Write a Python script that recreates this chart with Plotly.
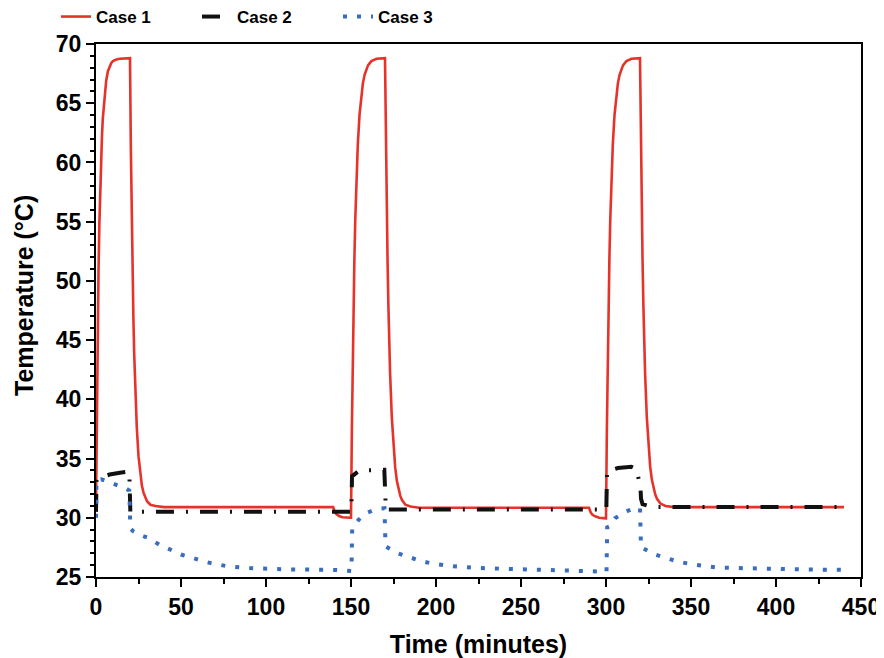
import plotly.graph_objects as go

# ---- data ----
case1_t = [0, 0.5, 1, 1.5, 2, 2.5, 3, 3.5, 4, 5, 6, 7, 8, 9, 10, 11, 12, 14, 20,
           20.5, 21, 21.5, 22, 22.5, 23, 24, 25, 26, 27, 28, 29, 30, 32, 35, 40, 80, 139.5,
           140.5, 141.5, 143, 145, 149.5,
           150, 150.5, 151, 151.5, 152, 152.5, 153, 154, 155, 156, 157, 158, 159, 160, 162, 165, 170,
           170.5, 171, 171.5, 172, 172.5, 173, 174, 175, 176, 177, 178, 179, 180, 182, 185, 190, 240, 290,
           291, 292, 294, 296, 299.8,
           300, 300.5, 301, 301.5, 302, 302.5, 303, 304, 305, 306, 307, 308, 309, 310, 312, 315, 320,
           320.5, 321, 321.5, 322, 322.5, 323, 324, 325, 326, 327, 328, 329, 330, 332, 335, 340, 400, 440]
case1_v = [31.0, 39.4, 45.9, 51.0, 54.9, 58.0, 60.4, 62.2, 63.7, 65.7, 66.9, 67.7, 68.1, 68.4, 68.55, 68.65, 68.7, 68.75, 68.8,
           61.2, 55.4, 50.6, 46.8, 43.7, 41.2, 37.6, 35.2, 33.7, 32.7, 32.1, 31.65, 31.4, 31.1, 31.0, 30.9, 30.9, 30.9,
           30.5, 30.3, 30.15, 30.05, 30.0,
           30.0, 37.3, 43.2, 48.0, 51.9, 55.1, 57.7, 61.5, 64.0, 65.6, 66.7, 67.4, 67.9, 68.2, 68.55, 68.75, 68.8,
           61.9, 56.3, 51.7, 47.9, 44.8, 42.2, 38.5, 35.9, 34.25, 33.1, 32.35, 31.85, 31.5, 31.1, 30.95, 30.85, 30.85, 30.85,
           30.45, 30.25, 30.1, 30.0, 29.95,
           29.95, 37.3, 43.2, 48.0, 51.9, 55.1, 57.7, 61.5, 64.0, 65.6, 66.7, 67.4, 67.9, 68.2, 68.55, 68.75, 68.8,
           61.9, 56.3, 51.7, 47.9, 44.8, 42.2, 38.5, 35.9, 34.3, 33.2, 32.45, 31.95, 31.6, 31.2, 31.0, 30.9, 30.9, 30.9]

case2_t = [0, 0.3, 4, 8, 14, 19.6, 20.2, 80, 150.2,
           150.6, 155, 169.6, 170.5, 230, 300.2,
           300.6, 307, 315, 318, 320.3, 320.6, 321.5, 325, 330, 440]
case2_v = [30.5, 33.2, 33.45, 33.65, 33.8, 33.9, 30.5, 30.5, 30.5,
           33.5, 34.0, 34.05, 30.7, 30.7, 30.7,
           33.9, 34.2, 34.3, 34.1, 32.5, 31.6, 31.15, 31.0, 30.9, 30.9]

case3_t = [0, 0.3, 3, 6, 10, 14, 17.3, 19.6, 20.2, 22, 25, 30.8, 37.6, 44, 50, 57, 63.5, 70, 77.6, 90, 110, 140, 149.9,
           150.3, 150.7, 152, 154.3, 156.5, 159, 162.5, 166, 169.7, 170.3, 172, 177.6, 184.7, 191, 199, 210, 224, 250, 280, 299.7,
           300.3, 300.7, 302.4, 305.3, 307.5, 310.2, 313, 316, 320, 320.6, 322, 328.8, 335.3, 342.5, 350.4, 357.6, 365, 371, 390, 410, 440]
case3_v = [30.0, 33.2, 33.25, 33.1, 32.9, 32.7, 32.5, 32.3, 29.1, 28.85, 28.6, 28.3, 27.7, 27.3, 26.9, 26.6, 26.3, 26.1, 25.9, 25.75, 25.65, 25.6, 25.5,
           25.5, 29.1, 29.4, 29.8, 30.1, 30.4, 30.6, 30.75, 30.8, 27.6, 27.45, 27.0, 26.66, 26.35, 26.1, 25.9, 25.76, 25.65, 25.55, 25.45,
           25.45, 29.2, 29.3, 29.96, 30.2, 30.4, 30.6, 30.75, 30.8, 27.5, 27.4, 26.9, 26.6, 26.3, 26.07, 25.93, 25.8, 25.78, 25.7, 25.65, 25.6]

x_ticks = [0, 50, 100, 150, 200, 250, 300, 350, 400, 450]
y_ticks = [25, 30, 35, 40, 45, 50, 55, 60, 65, 70]

FONT = "Liberation Sans, Arial, sans-serif"

fig = go.Figure()
fig.add_trace(go.Scatter(x=case1_t, y=case1_v, mode="lines", name="<b>Case 1</b>",
                         line=dict(color="#E5332A", width=2.6)))
fig.add_trace(go.Scatter(x=case2_t, y=case2_v, mode="lines", name="<b>Case 2</b>",
                         line=dict(color="#111111", width=4, dash="18px,12px,2px,12px")))
fig.add_trace(go.Scatter(x=case3_t, y=case3_v, mode="lines", name="<b>Case 3</b>",
                         line=dict(color="#3A6DC0", width=4, dash="4px,10px")))

axis_common = dict(
    showline=True, linecolor="black", linewidth=2, mirror=True,
    ticks="outside", tickcolor="black", tickwidth=2, ticklen=8,
    showgrid=False, zeroline=False, automargin=False,
    tickfont=dict(family=FONT, size=23, color="black"),
)

fig.update_xaxes(range=[0, 450], tickvals=x_ticks, ticktext=[f"<b>{v}</b>" for v in x_ticks],
                 minor=dict(dtick=25, ticks="outside", ticklen=5, tickwidth=2, tickcolor="black"),
                 title=dict(text="<b>Time (minutes)</b>", font=dict(family=FONT, size=25, color="black"), standoff=17),
                 **axis_common)
fig.update_yaxes(range=[25, 70], tickvals=y_ticks, ticktext=[f"<b>{v}</b>" for v in y_ticks],
                 minor=dict(dtick=1, ticks="outside", ticklen=4, tickwidth=2, tickcolor="black"),
                 **axis_common)

# y-axis title placed as rotated text
fig.add_annotation(text="<b>Temperature (°C)</b>", textangle=-90, showarrow=False,
                   xref="paper", yref="paper", x=(24 - 96) / 765, y=(577 - 296) / 533,
                   xanchor="center", yanchor="middle",
                   font=dict(family=FONT, size=25, color="black"))

fig.update_layout(
    width=876, height=650,
    margin=dict(l=88, r=23, t=36, b=81, autoexpand=False),
    plot_bgcolor="white", paper_bgcolor="white",
    showlegend=True,
    legend=dict(orientation="h", xref="container", yref="container",
                x=48 / 876, xanchor="left", y=1 - 9 / 650, yanchor="middle",
                font=dict(family=FONT, size=17, color="black"),
                itemwidth=30, entrywidth=96, entrywidthmode="pixels",
                bgcolor="rgba(0,0,0,0)"),
)

fig.write_html("out.html")
